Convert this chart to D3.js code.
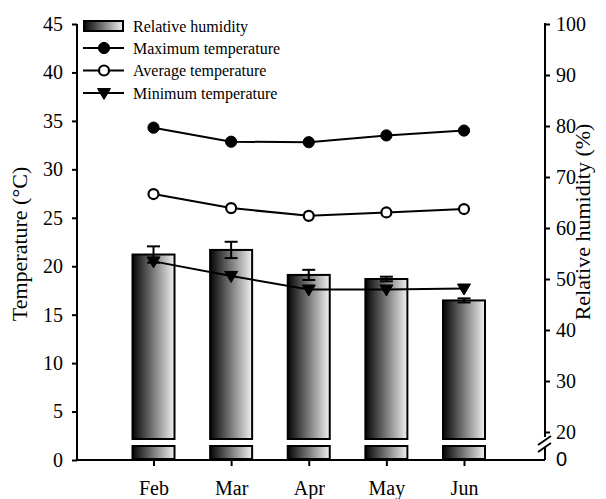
<!DOCTYPE html>
<html><head><meta charset="utf-8">
<script src="https://cdn.jsdelivr.net/npm/d3@7"></script>
<style>body{margin:0;background:#fff}svg{display:block;font-family:"Liberation Serif","Times New Roman",serif}</style>
</head><body><svg id="c" width="606" height="499"></svg>
<script>
const months = ["Feb","Mar","Apr","May","Jun"];
const humidity = [54.8,55.7,50.8,50.0,45.8];
const humidityErr = [1.6,1.6,1.0,0.45,0.4];
const maxTemp = [34.3,32.85,32.8,33.5,34.0];
const avgTemp = [27.45,26.0,25.2,25.55,25.9];
const minTemp = [20.5,19.0,17.6,17.6,17.7];
const leftTicks = [0,5,10,15,20,25,30,35,40,45];
const rightTicks = [20,30,40,50,60,70,80,90,100];
const rightLowTicks = [0];
const legendLabels = ["Relative humidity","Maximum temperature","Average temperature","Minimum temperature"];

const svg = d3.select("#c");
const L = 77, R = 545, B = 460, T = 24;
const barBodyBottom = 439, lowTop = 446;
const x = d3.scalePoint().domain(months).range([153.5, 464]);
const yL = d3.scaleLinear().domain([0,45]).range([B,T]);
const yR = d3.scaleLinear().domain([20,100]).range([432,T]);
const barW = 42;

const defs = svg.append("defs");
const g = defs.append("linearGradient").attr("id","bg").attr("x1","0").attr("x2","1").attr("y1","0").attr("y2","0");
g.append("stop").attr("offset","0%").attr("stop-color","#050505");
g.append("stop").attr("offset","100%").attr("stop-color","#f0f0f0");

// bars
const bars = svg.append("g");
months.forEach((m,i)=>{
  bars.append("rect").attr("x",x(m)-barW/2).attr("y",yR(humidity[i]))
    .attr("width",barW).attr("height",barBodyBottom-yR(humidity[i]))
    .attr("fill","url(#bg)").attr("stroke","#000").attr("stroke-width",2);
  bars.append("rect").attr("x",x(m)-barW/2).attr("y",lowTop)
    .attr("width",barW).attr("height",B-1-lowTop)
    .attr("fill","url(#bg)").attr("stroke","#000").attr("stroke-width",2);
  const e = humidityErr[i], cw = 6.5;
  const y1 = yR(humidity[i]+e), y2 = yR(humidity[i]-e);
  bars.append("line").attr("x1",x(m)).attr("x2",x(m)).attr("y1",y1).attr("y2",y2).attr("stroke","#000").attr("stroke-width",2);
  [y1,y2].forEach(yy=>bars.append("line").attr("x1",x(m)-cw).attr("x2",x(m)+cw).attr("y1",yy).attr("y2",yy).attr("stroke","#000").attr("stroke-width",2));
});

// lines
const line = d3.line().x((d,i)=>x(months[i])).y(d=>yL(d));
const series = [
  {v:maxTemp, sym:"circle", fill:"#000"},
  {v:avgTemp, sym:"circle", fill:"#fff"},
  {v:minTemp, sym:"tri", fill:"#000"}
];
function marker(sel, type, fill, cx, cy){
  if(type==="circle"){
    sel.append("circle").attr("cx",cx).attr("cy",cy).attr("r",fill==="#fff"?5:5.6)
      .attr("fill",fill).attr("stroke","#000").attr("stroke-width",fill==="#fff"?2.2:1);
  } else {
    sel.append("path").attr("d",`M${cx-6.5},${cy-4.5}L${cx+6.5},${cy-4.5}L${cx},${cy+6.5}Z`).attr("fill","#000").attr("stroke","#000").attr("stroke-width",1);
  }
}
const lg = svg.append("g");
series.forEach(s=>{
  lg.append("path").datum(s.v).attr("d",line).attr("fill","none").attr("stroke","#000").attr("stroke-width",2);
});
series.forEach(s=>{
  s.v.forEach((d,i)=>marker(lg, s.sym, s.fill, x(months[i]), yL(d)));
});

// axes
const fs = "20px";
const ax = svg.append("g").attr("transform",`translate(${L},0)`)
  .call(d3.axisLeft(yL).tickValues(leftTicks).tickSize(5).tickSizeOuter(0).tickPadding(9));
ax.select(".domain").remove();
ax.append("line").attr("x1",0).attr("x2",0).attr("y1",T).attr("y2",B).attr("stroke","#000").attr("stroke-width",2);
ax.selectAll(".tick line").attr("stroke-width",2);
ax.selectAll("text").attr("font-size",fs).attr("fill","#000").attr("font-family","Liberation Serif");

const ar = svg.append("g").attr("transform",`translate(${R},0)`)
  .call(d3.axisRight(yR).tickValues(rightTicks).tickSize(5).tickSizeOuter(0).tickPadding(6));
ar.select(".domain").remove();
ar.append("line").attr("x1",0).attr("x2",0).attr("y1",T-1).attr("y2",437).attr("stroke","#000").attr("stroke-width",2);
ar.append("line").attr("x1",0).attr("x2",0).attr("y1",447).attr("y2",B).attr("stroke","#000").attr("stroke-width",2);
ar.selectAll(".tick line").attr("stroke-width",2);
ar.selectAll("text").attr("font-size",fs).attr("fill","#000").attr("font-family","Liberation Serif");
ar.selectAll(".low").data(rightLowTicks).enter().append("text").attr("class","low").attr("x",11).attr("y",B).attr("dy","0.32em")
  .attr("font-size",fs).attr("fill","#000").text(d=>d);
[[0,0],[0,7]].forEach(([dx,dy])=>{
  ar.append("line").attr("x1",-7).attr("y1",445+dy).attr("x2",6).attr("y2",436+dy).attr("stroke","#000").attr("stroke-width",2);
});

const axb = svg.append("g").attr("transform",`translate(0,${B})`)
  .call(d3.axisBottom(x).tickSize(6).tickSizeOuter(0).tickPadding(15));
axb.select(".domain").remove();
axb.append("line").attr("x1",L).attr("x2",R).attr("y1",0).attr("y2",0).attr("stroke","#000").attr("stroke-width",2);
axb.selectAll(".tick line").attr("stroke-width",2);
axb.selectAll("text").attr("font-size",fs).attr("fill","#000").attr("font-family","Liberation Serif");

// titles
svg.append("text").attr("transform","translate(27,244) rotate(-90)").attr("text-anchor","middle")
  .attr("font-size","22px").text("Temperature (°C)");
svg.append("text").attr("transform","translate(590,222) rotate(-90)").attr("text-anchor","middle")
  .attr("font-size","22px").text("Relative humidity (%)");

// legend
const leg = svg.append("g");
const ly = [26,48,70.5,93];
leg.append("rect").attr("x",84).attr("y",21).attr("width",39).attr("height",10).attr("fill","url(#bg)").attr("stroke","#000").attr("stroke-width",2);
const legSyms = [null,["circle","#000"],["circle","#fff"],["tri","#000"]];
legendLabels.forEach((t,i)=>{
  if(i>0){
    leg.append("line").attr("x1",83).attr("x2",124).attr("y1",ly[i]).attr("y2",ly[i]).attr("stroke","#000").attr("stroke-width",2);
    marker(leg, legSyms[i][0], legSyms[i][1], 104, ly[i]);
  }
  leg.append("text").attr("x",133).attr("y",ly[i]).attr("dy","0.35em").attr("font-size","16px").text(t);
});
</script></body></html>
